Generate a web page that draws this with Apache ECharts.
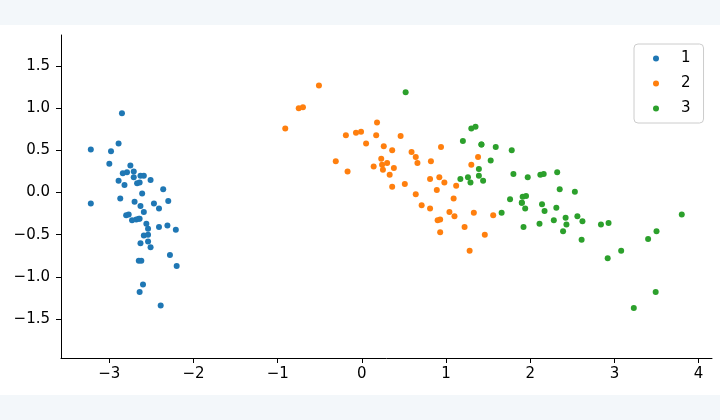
<!DOCTYPE html>
<html>
<head>
<meta charset="utf-8">
<script src="https://cdn.jsdelivr.net/npm/echarts@6/dist/echarts.min.js"></script>
<style>
html,body{margin:0;padding:0;background:#f3f7fa;}
#chart{width:720px;height:420px;background:linear-gradient(#f3f7fa 0px,#f3f7fa 25px,#ffffff 25px,#ffffff 395px,#f3f7fa 395px);}
</style>
</head>
<body>
<div id="chart"></div>
<script>
// Cluster 1
const x1 = [-2.68,-2.71,-2.89,-2.75,-2.73,-2.28,-2.82,-2.63,-2.89,-2.67,-2.51,-2.61,-2.79,-3.22,-2.64,-2.39,-2.62,-2.65,-2.20,-2.59,-2.31,-2.54,-3.22,-2.30,-2.36,-2.51,-2.47,-2.56,-2.64,-2.63,-2.59,-2.41,-2.65,-2.60,-2.64,-2.87,-2.63,-2.80,-2.98,-2.59,-2.77,-2.85,-3.00,-2.41,-2.21,-2.71,-2.54,-2.84,-2.54,-2.70];
const y1 = [-0.32,0.18,0.14,0.32,-0.33,-0.74,0.09,-0.16,0.58,0.11,-0.65,-0.01,0.24,0.51,-1.18,-1.34,-0.81,-0.31,-0.87,-0.51,-0.39,-0.43,-0.13,-0.10,0.04,0.15,-0.13,-0.37,-0.31,0.20,0.20,-0.41,-0.81,-1.09,0.12,-0.07,-0.60,-0.27,0.49,-0.23,-0.26,0.94,0.34,-0.19,-0.44,0.25,-0.50,0.23,-0.58,-0.11];
// Cluster 2
const x2 = [1.28,0.93,1.46,0.18,1.09,0.64,1.10,-0.75,1.04,-0.01,-0.51,0.51,0.26,0.98,-0.17,0.93,0.66,0.24,0.94,0.05,1.12,0.36,1.30,0.92,0.71,0.90,1.33,1.56,0.81,-0.31,-0.07,-0.19,0.14,1.38,0.59,0.81,1.22,0.82,0.25,0.17,0.46,0.89,0.23,-0.70,0.36,0.33,0.38,0.64,-0.91,0.30];
const y2 = [-0.69,-0.32,-0.50,0.83,-0.07,0.42,-0.28,1.00,-0.23,0.72,1.27,0.10,0.55,0.12,0.25,-0.47,0.35,0.33,0.54,0.58,0.08,0.07,0.33,0.18,-0.15,-0.33,-0.24,-0.27,0.16,0.37,0.71,0.68,0.31,0.42,0.48,-0.19,-0.41,0.37,0.27,0.68,0.67,0.03,0.40,1.01,0.50,0.21,0.29,-0.02,0.76,0.35];
// Cluster 3
const x3 = [2.53,1.42,2.62,1.97,2.35,3.40,0.52,2.93,2.32,2.92,1.66,1.80,2.17,1.35,1.59,1.90,1.95,3.49,3.80,1.30,2.43,1.20,3.50,1.39,2.28,2.61,1.26,1.29,2.12,2.39,2.84,3.23,2.16,1.44,1.78,3.08,2.14,1.91,1.17,2.11,2.31,1.92,1.42,2.56,2.42,1.94,1.53,1.76,1.90,1.39];
const y3 = [0.01,0.57,-0.34,0.18,0.04,-0.55,1.19,-0.36,0.24,-0.78,-0.24,0.22,-0.22,0.78,0.54,-0.12,-0.04,-1.18,-0.26,0.76,-0.38,0.61,-0.46,0.20,-0.33,-0.56,0.18,0.12,0.21,-0.46,-0.38,-1.37,0.22,0.14,0.50,-0.69,-0.14,-0.05,0.16,-0.37,-0.18,-0.41,0.57,-0.28,-0.30,-0.19,0.38,-0.08,-0.12,0.28];

const seriesNames = ['1','2','3'];
const colors = ['#1f77b4','#ff7f0e','#2ca02c'];
const xTicks = [-3,-2,-1,0,1,2,3,4];
const yTicks = [-1.5,-1.0,-0.5,0.0,0.5,1.0,1.5];

const xs = [x1,x2,x3], ys = [y1,y2,y3];
const font = 'DejaVu Sans';
const fmtMinus = s => s.replace('-', '\u2212');

const chart = echarts.init(document.getElementById('chart'), null, {renderer:'canvas'});
chart.setOption({
  animation:false,
  backgroundColor:'transparent',
  grid:{left:61, top:35, right:8, bottom:62, containLabel:false},
  xAxis:{
    type:'value', min:-3.574, max:4.159,
    splitLine:{show:false},
    axisLine:{show:true, onZero:false, lineStyle:{color:'#000', width:1}},
    axisTick:{show:true, inside:false, length:5, customValues:xTicks, lineStyle:{color:'#000', width:1}},
    axisLabel:{customValues:xTicks, margin:9, color:'#000', fontSize:15, fontFamily:font,
      formatter:v=>fmtMinus(String(Math.round(v)))}
  },
  yAxis:{
    type:'value', min:-1.962, max:1.868,
    splitLine:{show:false},
    axisLine:{show:true, onZero:false, lineStyle:{color:'#000', width:1}},
    axisTick:{show:true, inside:false, length:5, customValues:yTicks, lineStyle:{color:'#000', width:1}},
    axisLabel:{customValues:yTicks, margin:11, color:'#000', fontSize:15, fontFamily:font,
      formatter:v=>fmtMinus(Number(v).toFixed(1))}
  },
  legend:{
    orient:'vertical', left:634, top:44,
    data:seriesNames,
    icon:'circle', itemWidth:20, itemHeight:6, itemGap:10,
    padding:[7,13,7,19],
    borderColor:'#cccccc', borderWidth:1, borderRadius:4,
    backgroundColor:'rgba(255,255,255,0.8)',
    textStyle:{color:'#000', fontSize:15, fontFamily:font, padding:[0,0,0,10]}
  },
  series:seriesNames.map((n,i)=>({
    name:n, type:'scatter', symbol:'circle', symbolSize:6,
    itemStyle:{color:colors[i], opacity:1},
    data:xs[i].map((x,j)=>[x, ys[i][j]])
  }))
});
</script>
</body>
</html>
